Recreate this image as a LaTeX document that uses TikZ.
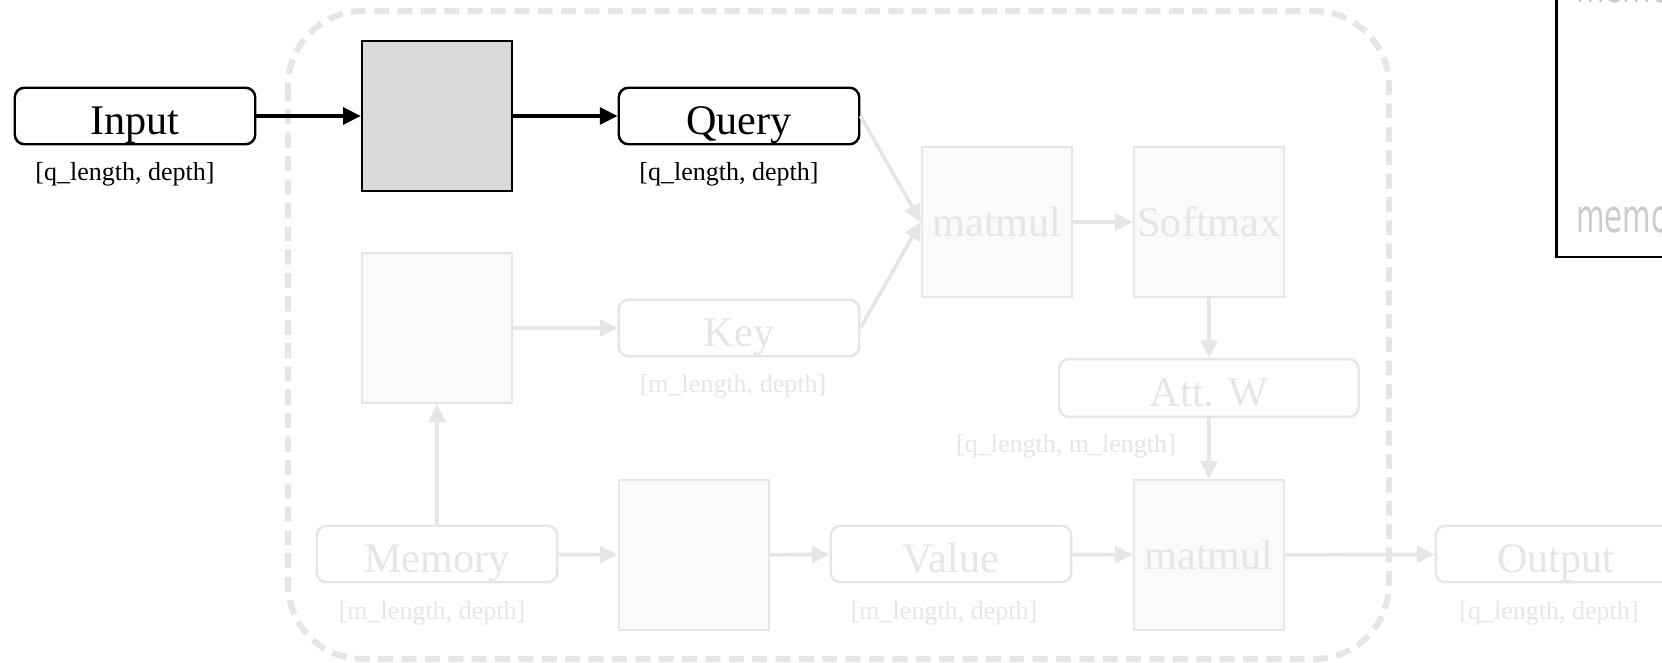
\documentclass[tikz,border=0pt]{standalone}
\usepackage{fontspec}
\setmainfont{Liberation Serif}
\newfontfamily\memfont[FakeStretch=0.64]{DejaVu Sans}
\usetikzlibrary{arrows.meta}

\definecolor{faint}{HTML}{E6E6E6}
\definecolor{faintfill}{HTML}{FAFAFA}
\definecolor{projgray}{HTML}{D9D9D9}
\definecolor{memgray}{HTML}{CBCBCB}

\begin{document}
\begin{tikzpicture}[
  tensor/.style={draw, fill=white, rounded corners=5.5pt, line width=1.4pt, minimum width=4.81cm, minimum height=1.13cm, inner sep=0pt, text height=21.6pt, text depth=0pt, font=\fontsize{24}{28}\selectfont},
  opbox/.style={draw, line width=1.4pt, minimum width=3cm, minimum height=3cm, inner sep=0pt, font=\fontsize{24}{28}\selectfont},
  dim/.style={inner sep=0pt, font=\fontsize{14.8}{17}\selectfont},
  flow/.style={line width=2.1pt, -{Triangle[length=10pt,width=9.5pt]}},
  faded/.style={draw=faint, text=faint},
  fadedop/.style={opbox, draw=faint, fill=faintfill, text=faint},
  fadedflow/.style={flow, draw=faint, fill=faint},
  memtext/.style={anchor=base west, inner sep=0pt, text=memgray, font=\memfont\fontsize{26}{30}\selectfont}
]
\useasboundingbox (0,0) rectangle (33.24,-13.26);

% attention block
\draw[faint, line width=3.5pt, dash pattern=on 8.5pt off 4.8pt, rounded corners=1.5cm] (5.76,-0.22) rectangle (27.78,-13.18);

% side panel, cut off by the page
\draw[line width=1.7pt] (31.12,1) -- (31.12,-5.14) -- (34,-5.14);
\node[memtext] (memtop) at (31.52,-0.06) {memory};
\node[memtext] (membot) at (31.52,-4.66) {memory};

% query path
\node[tensor] (input) at (2.70,-2.32) {Input};
\node[dim] (inputdim) at (2.50,-3.48) {[q\_length, depth]};
\node[opbox, fill=projgray] (projq) at (8.74,-2.32) {};
\node[tensor] (query) at (14.78,-2.32) {Query};
\node[dim] (querydim) at (14.58,-3.48) {[q\_length, depth]};

% key path
\node[fadedop] (projk) at (8.74,-6.56) {};
\node[tensor, faded] (key) at (14.78,-6.56) {Key};
\node[dim, text=faint] (keydim) at (14.66,-7.72) {[m\_length, depth]};

% scores
\node[fadedop] (matmulqk) at (19.94,-4.44) {matmul};
\node[fadedop] (softmax) at (24.18,-4.44) {Softmax};
\node[tensor, faded, minimum width=5.99cm, minimum height=1.15cm] (attw) at (24.18,-7.76) {Att. W};
\node[dim, text=faint] (attwdim) at (21.32,-8.92) {[q\_length, m\_length]};

% value path
\node[tensor, faded] (memory) at (8.74,-11.08) {Memory};
\node[dim, text=faint] (memorydim) at (8.64,-12.26) {[m\_length, depth]};
\node[fadedop] (projv) at (13.88,-11.10) {};
\node[tensor, faded] (value) at (19.02,-11.08) {Value};
\node[dim, text=faint] (valuedim) at (18.88,-12.26) {[m\_length, depth]};
\node[fadedop] (matmulwv) at (24.18,-11.10) {matmul};
\node[tensor, faded] (output) at (31.12,-11.08) {Output};
\node[dim, text=faint] (outputdim) at (30.98,-12.26) {[q\_length, depth]};

% arrows
\draw[flow] (input) -- (projq);
\draw[flow] (projq) -- (query);
\draw[fadedflow] (query.east) -- (matmulqk.west);
\draw[fadedflow] (key.east) -- (matmulqk.west);
\draw[fadedflow] (matmulqk) -- (softmax);
\draw[fadedflow] (softmax) -- (attw);
\draw[fadedflow] (attw) -- (matmulwv);
\draw[fadedflow] (memory) -- (projk);
\draw[fadedflow] (projk) -- (key);
\draw[fadedflow] (memory) -- (projv);
\draw[fadedflow] (projv) -- (value);
\draw[fadedflow] (value) -- (matmulwv);
\draw[fadedflow] (matmulwv) -- (output);
\end{tikzpicture}
\end{document}
